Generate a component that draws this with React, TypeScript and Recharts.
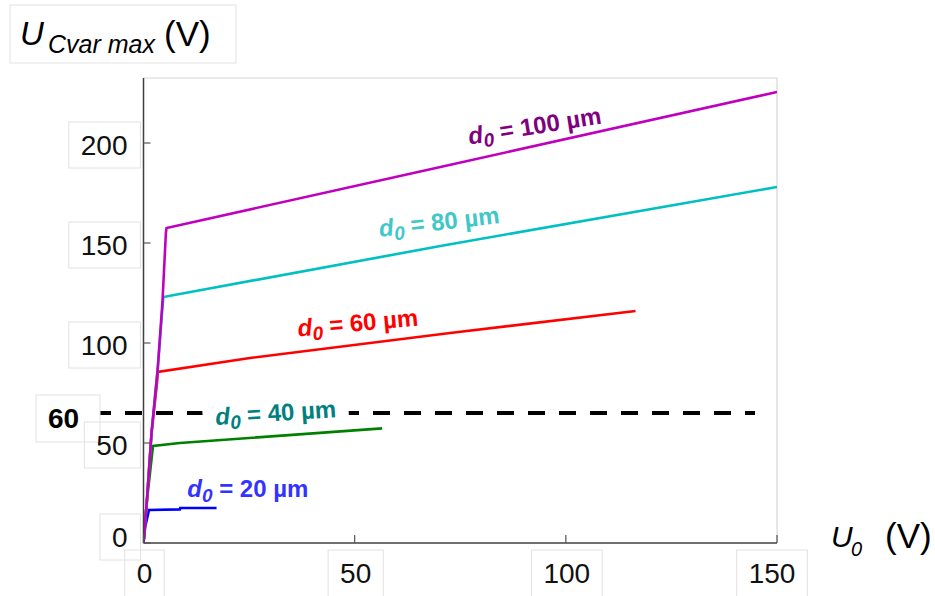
import React from 'react';
import { LineChart, Line, XAxis, YAxis, ReferenceLine, ReferenceDot } from 'recharts';

// ---------- data ----------
const U0_d20 = [0, 0.4, 1.3, 8.6, 8.7, 17.3];
const UC_d20 = [0, 8, 16.5, 16.8, 17.5, 17.5];

const U0_d40 = [0, 0.8, 1.8, 2.25, 8.6, 56.5];
const UC_d40 = [0, 21, 40, 48.5, 50, 57.3];

const U0_d60 = [0, 0.8, 1.9, 3.2, 3.4, 25.2, 72.6, 116.5];
const UC_d60 = [0, 21, 55, 80, 85.5, 92.5, 105, 116];

const U0_d80 = [0, 0.8, 1.9, 3.4, 4.5, 4.7, 70.3, 150];
const UC_d80 = [0, 21, 55, 88, 118, 123, 148.5, 178];

const U0_d100 = [0, 0.8, 1.9, 3.4, 4.5, 5.3, 5.45, 70.3, 150];
const UC_d100 = [0, 21, 55, 88, 121, 155, 157.5, 188, 225.5];

const X_TICKS = [0, 50, 100, 150];
const Y_TICKS = [0, 50, 100, 150, 200];
const X_DOMAIN: [number, number] = [0, 150];
const Y_DOMAIN: [number, number] = [0, 232.5];

const LIMIT_VALUE = 65;
const LIMIT_LABEL = '60';
const LIMIT_FROM = -10.3;
const LIMIT_TO = 144.8;

const CURVE_NAMES = ['100', '80', '60', '40', '20'];

const toPts = (xs: number[], ys: number[]) => xs.map((x, i) => ({ x, y: ys[i] }));

const series = [
  { key: 'd20', data: toPts(U0_d20, UC_d20), color: '#0000ff' },
  { key: 'd40', data: toPts(U0_d40, UC_d40), color: '#008000' },
  { key: 'd60', data: toPts(U0_d60, UC_d60), color: '#ff0000' },
  { key: 'd80', data: toPts(U0_d80, UC_d80), color: '#00c0c0' },
  { key: 'd100', data: toPts(U0_d100, UC_d100), color: '#c000c0' },
];

// label anchors (data coords), colours, rotation
const curveLabels = [
  { name: CURVE_NAMES[0], x: 92.9, y: 204.5, color: '#800080', angle: -9, bg: false },
  { name: CURVE_NAMES[1], x: 70.2, y: 156.5, color: '#40c8c8', angle: -6.5, bg: false },
  { name: CURVE_NAMES[2], x: 50.9, y: 106, color: '#ff0000', angle: -5.2, bg: false },
  { name: CURVE_NAMES[3], x: 31.4, y: 61, color: '#008080', angle: -3.8, bg: true },
  { name: CURVE_NAMES[4], x: 24.7, y: 23, color: '#3333ff', angle: 0, bg: false },
];

// ---------- layout ----------
const W = 935;
const H = 596;
const PLOT_LEFT = 143.5;
const PLOT_TOP = 78;
const PLOT_RIGHT = 777;
const PLOT_BOTTOM = 543;
const Y_AXIS_W = 60;
const X_AXIS_H = 40;
const FONT = '"Liberation Sans", Arial, sans-serif';
const BOX = '#e2e2e2';
const TICK_FS = 28;

const YTick = (props: any) => {
  const { y, payload } = props;
  const v = payload.value;
  const label = String(v);
  const tw = label.length * 0.556 * TICK_FS;
  const right = PLOT_LEFT - 16;
  const shift = v === 0 ? -8 : 0;
  return (
    <g>
      <rect x={right - tw - 12} y={y - 21 + shift} width={tw + 25} height={46} fill="none" stroke={BOX} strokeWidth={1} />
      <text x={right} y={y + 12 + shift} textAnchor="end" fontFamily={FONT} fontSize={TICK_FS} fill="#111">
        {label}
      </text>
      <line x1={PLOT_LEFT} x2={PLOT_LEFT + 7} y1={y} y2={y} stroke="#555" strokeWidth={1.2} />
    </g>
  );
};

const XTick = (props: any) => {
  const { x, payload } = props;
  const v = payload.value;
  const label = String(v);
  const tw = label.length * 0.556 * TICK_FS;
  const cx = x + (v === 150 ? -5 : 1);
  return (
    <g>
      <rect x={cx - tw / 2 - 12} y={PLOT_BOTTOM + 7} width={tw + 24} height={50} fill="none" stroke={BOX} strokeWidth={1} />
      <text x={cx} y={PLOT_BOTTOM + 40} textAnchor="middle" fontFamily={FONT} fontSize={TICK_FS} fill="#111">
        {label}
      </text>
      <line x1={x} x2={x} y1={PLOT_BOTTOM} y2={PLOT_BOTTOM - 8} stroke="#555" strokeWidth={1.2} />
    </g>
  );
};

const LimitLabel = (props: any) => {
  const vb = props.viewBox || {};
  const x0 = vb.x ?? 100;
  const y0 = vb.y ?? 413;
  return (
    <g>
      <rect x={x0 - 64} y={y0 - 18} width={64} height={47} fill="#fff" stroke={BOX} strokeWidth={1} />
      <text x={x0 - 36.5} y={y0 + 15} textAnchor="middle" fontFamily={FONT} fontWeight="bold" fontSize={28} fill="#000">
        {LIMIT_LABEL}
      </text>
    </g>
  );
};

const makeCurveLabel = (name: string, color: string, angle: number, bg: boolean) => (props: any) => {
  const { cx, cy } = props;
  return (
    <g transform={`rotate(${angle} ${cx} ${cy})`}>
      {bg && <rect x={cx - 73} y={cy - 22} width={146} height={30} fill="#fff" />}
      <text x={cx} y={cy} textAnchor="middle" fill={color} fontFamily={FONT} fontWeight="bold" fontSize={24}>
        <tspan fontStyle="italic">d</tspan>
        <tspan fontStyle="italic" fontSize={19} dy={5}>0</tspan>
        <tspan dy={-5}>{` = ${name} µm`}</tspan>
      </text>
    </g>
  );
};

export default function App() {
  return (
    <div style={{ position: 'fixed', left: 0, top: 0, width: W, height: H, background: '#fff' }}>
      <svg width={W} height={H} style={{ position: 'absolute', left: 0, top: 0 }}>
        <rect x={10} y={5} width={226} height={58} fill="none" stroke={BOX} strokeWidth={1} />
        <text fontFamily={FONT} fill="#000">
          <tspan x={20} y={45} fontSize={33} fontStyle="italic">U</tspan>
          <tspan x={48} y={53} fontSize={25} fontStyle="italic">Cvar max</tspan>
          <tspan x={164} y={46} fontSize={35}>(V)</tspan>
        </text>
        <text fontFamily={FONT} fill="#000">
          <tspan x={831} y={547} fontSize={30} fontStyle="italic">U</tspan>
          <tspan x={851} y={556} fontSize={20} fontStyle="italic">0</tspan>
          <tspan x={885} y={548} fontSize={35}>(V)</tspan>
        </text>
      </svg>
      <div style={{ position: 'absolute', left: 0, top: 0 }}>
        <LineChart
          width={W}
          height={H}
          margin={{ top: PLOT_TOP, right: W - PLOT_RIGHT, bottom: H - PLOT_BOTTOM - X_AXIS_H, left: PLOT_LEFT - Y_AXIS_W }}
        >
          <XAxis
            dataKey="x"
            type="number"
            domain={X_DOMAIN}
            ticks={X_TICKS}
            height={X_AXIS_H}
            axisLine={{ stroke: '#404040', strokeWidth: 1.5 }}
            tickLine={false}
            tick={<XTick />}
            interval={0}
            allowDataOverflow
          />
          <YAxis
            type="number"
            domain={Y_DOMAIN}
            ticks={Y_TICKS}
            width={Y_AXIS_W}
            axisLine={{ stroke: '#404040', strokeWidth: 1.5 }}
            tickLine={false}
            tick={<YTick />}
            interval={0}
            allowDataOverflow
          />
          <ReferenceLine y={Y_DOMAIN[1]} stroke="#d6d6d6" strokeWidth={1.2} />
          <ReferenceLine x={X_DOMAIN[1]} stroke="#d6d6d6" strokeWidth={1.2} />
          {series.map((s) => (
            <Line
              key={s.key}
              data={s.data}
              dataKey="y"
              type="linear"
              stroke={s.color}
              strokeWidth={2.6}
              dot={false}
              activeDot={false}
              isAnimationActive={false}
            />
          ))}
          <ReferenceLine
            segment={[
              { x: LIMIT_FROM, y: LIMIT_VALUE },
              { x: LIMIT_TO, y: LIMIT_VALUE },
            ]}
            ifOverflow="visible"
            stroke="#000"
            strokeWidth={4}
            strokeDasharray="17 14"
            strokeDashoffset={6}
            label={<LimitLabel />}
          />
          {curveLabels.map((l) => (
            <ReferenceDot
              key={l.name}
              x={l.x}
              y={l.y}
              r={0}
              ifOverflow="visible"
              shape={makeCurveLabel(l.name, l.color, l.angle, l.bg)}
            />
          ))}
        </LineChart>
      </div>
    </div>
  );
}
